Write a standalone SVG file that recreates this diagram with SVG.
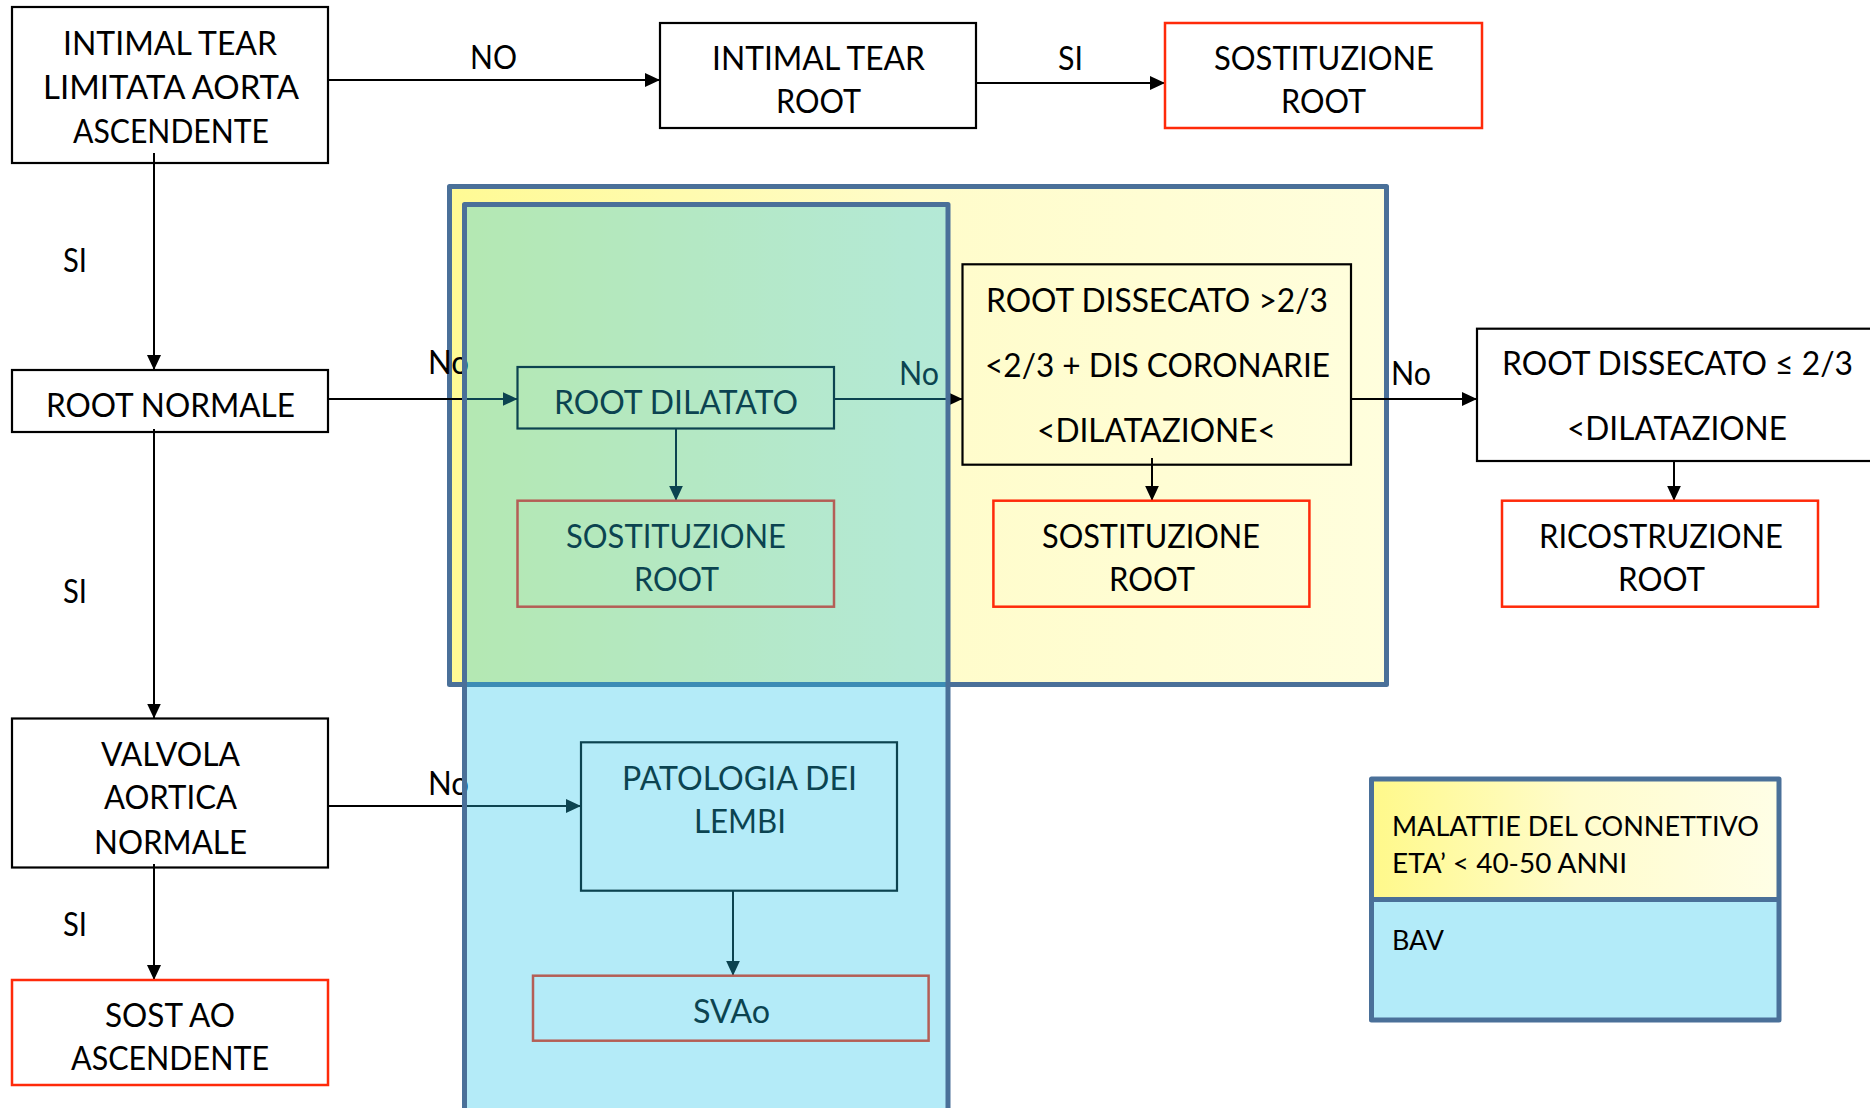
<svg xmlns="http://www.w3.org/2000/svg" width="1870" height="1108" viewBox="0 0 1870 1108">
  <defs>
    <linearGradient id="yellowFade" x1="0" y1="0" x2="1" y2="0">
      <stop offset="0" stop-color="#FFFA94"/>
      <stop offset="0.5" stop-color="#FFFCCA"/>
      <stop offset="1" stop-color="#FFFEDD"/>
    </linearGradient>
    <linearGradient id="legendFade" x1="0" y1="0" x2="1" y2="0">
      <stop offset="0" stop-color="#FFF98A"/>
      <stop offset="0.5" stop-color="#FFFCCC"/>
      <stop offset="1" stop-color="#FFFEE6"/>
    </linearGradient>
    <marker id="arr" viewBox="0 0 15 14" refX="15" refY="7" markerWidth="15" markerHeight="14" markerUnits="userSpaceOnUse" orient="auto">
      <path d="M0,0 L15,7 L0,14 z" fill="#000"/>
    </marker>
    <style>
      .t { font-family: Lato, "Open Sans", "DejaVu Sans", sans-serif; font-size: 32px; fill: #000; }
      .s { font-size: 26px; }
      .box { fill: none; stroke: #000; stroke-width: 2.2; }
      .red { fill: none; stroke: #FF2A0A; stroke-width: 2.5; }
      .c { fill: none; stroke: #000; stroke-width: 2; marker-end: url(#arr); }
      .zone { stroke: #4A7099; stroke-width: 5; stroke-linejoin: round; }
    </style>
  </defs>

  <rect width="1870" height="1108" fill="#fff"/>

  <!-- connective-tissue zone -->
  <g id="zone-connettivo">
    <rect class="zone" x="449.5" y="186.5" width="937" height="498" fill="url(#yellowFade)"/>
  </g>

  <g id="connectors">
    <path class="c" d="M328,80 H660"/>
    <path class="c" d="M976,83 H1165"/>
    <path class="c" d="M154,153 V370"/>
    <path class="c" d="M328,399 H517.5"/>
    <path class="c" d="M154,429 V718.5"/>
    <path class="c" d="M328,806 H581"/>
    <path class="c" d="M154,864 V980"/>
    <path class="c" d="M676,428 V500.7"/>
    <path class="c" d="M834,399 H962.5"/>
    <path class="c" d="M1152,458 V500.7"/>
    <path class="c" d="M1351,399 H1477"/>
    <path class="c" d="M1674,461 V500.7"/>
    <path class="c" d="M733,890.7 V975.7"/>
    <g class="t">
      <text x="470" y="69" textLength="47" lengthAdjust="spacingAndGlyphs">NO</text>
      <text x="1058" y="70" textLength="25" lengthAdjust="spacingAndGlyphs">SI</text>
      <text x="63" y="272" textLength="24" lengthAdjust="spacingAndGlyphs">SI</text>
      <text x="63" y="603" textLength="24" lengthAdjust="spacingAndGlyphs">SI</text>
      <text x="63" y="936" textLength="24" lengthAdjust="spacingAndGlyphs">SI</text>
      <text x="428" y="374" textLength="41" lengthAdjust="spacingAndGlyphs">No</text>
      <text x="428" y="795" textLength="41" lengthAdjust="spacingAndGlyphs">No</text>
      <text x="899" y="385" textLength="40" lengthAdjust="spacingAndGlyphs">No</text>
      <text x="1391" y="385" textLength="40" lengthAdjust="spacingAndGlyphs">No</text>
    </g>
  </g>

  <g id="n-intimal-tear-limitata">
    <rect class="box" x="12" y="7" width="316" height="156"/>
    <g class="t">
      <text x="63" y="55" textLength="214" lengthAdjust="spacingAndGlyphs">INTIMAL TEAR</text>
      <text x="43" y="99" textLength="256" lengthAdjust="spacingAndGlyphs">LIMITATA AORTA</text>
      <text x="73" y="143" textLength="196" lengthAdjust="spacingAndGlyphs">ASCENDENTE</text>
    </g>
  </g>

  <g id="n-intimal-tear-root">
    <rect class="box" x="660" y="23" width="316" height="105"/>
    <g class="t">
      <text x="712" y="70" textLength="213" lengthAdjust="spacingAndGlyphs">INTIMAL TEAR</text>
      <text x="776" y="113" textLength="85" lengthAdjust="spacingAndGlyphs">ROOT</text>
    </g>
  </g>

  <g id="n-sostituzione-root-1">
    <rect class="red" x="1165" y="23" width="317" height="105"/>
    <g class="t">
      <text x="1214" y="70" textLength="220" lengthAdjust="spacingAndGlyphs">SOSTITUZIONE</text>
      <text x="1281" y="113" textLength="85" lengthAdjust="spacingAndGlyphs">ROOT</text>
    </g>
  </g>

  <g id="n-root-normale">
    <rect class="box" x="12" y="370" width="316" height="62"/>
    <text class="t" x="46" y="417" textLength="249" lengthAdjust="spacingAndGlyphs">ROOT NORMALE</text>
  </g>

  <g id="n-valvola-normale">
    <rect class="box" x="12" y="718.5" width="316" height="149"/>
    <g class="t">
      <text x="101" y="766" textLength="139" lengthAdjust="spacingAndGlyphs">VALVOLA</text>
      <text x="104" y="809" textLength="133" lengthAdjust="spacingAndGlyphs">AORTICA</text>
      <text x="94" y="854" textLength="153" lengthAdjust="spacingAndGlyphs">NORMALE</text>
    </g>
  </g>

  <g id="n-sost-ao">
    <rect class="red" x="12" y="980" width="316" height="105"/>
    <g class="t">
      <text x="105" y="1027" textLength="130" lengthAdjust="spacingAndGlyphs">SOST AO</text>
      <text x="71" y="1070" textLength="198" lengthAdjust="spacingAndGlyphs">ASCENDENTE</text>
    </g>
  </g>

  <g id="n-root-dilatato">
    <rect class="box" x="517.5" y="367" width="316.5" height="61.5"/>
    <text class="t" x="554" y="414" textLength="244" lengthAdjust="spacingAndGlyphs">ROOT DILATATO</text>
  </g>

  <g id="n-sostituzione-root-2">
    <rect class="red" x="517.5" y="500.7" width="316.5" height="106"/>
    <g class="t">
      <text x="566" y="548" textLength="220" lengthAdjust="spacingAndGlyphs">SOSTITUZIONE</text>
      <text x="634" y="591" textLength="85" lengthAdjust="spacingAndGlyphs">ROOT</text>
    </g>
  </g>

  <g id="n-root-dissecato-oltre">
    <rect class="box" x="962.5" y="264.3" width="388.5" height="200.4"/>
    <g class="t">
      <text x="986" y="312" textLength="342" lengthAdjust="spacingAndGlyphs">ROOT DISSECATO &gt;2/3</text>
      <text x="985" y="377" textLength="345" lengthAdjust="spacingAndGlyphs">&lt;2/3 + DIS CORONARIE</text>
      <text x="1037" y="442" textLength="239" lengthAdjust="spacingAndGlyphs">&lt;DILATAZIONE&lt;</text>
    </g>
  </g>

  <g id="n-sostituzione-root-3">
    <rect class="red" x="993.4" y="500.7" width="316" height="106"/>
    <g class="t">
      <text x="1042" y="548" textLength="218" lengthAdjust="spacingAndGlyphs">SOSTITUZIONE</text>
      <text x="1109" y="591" textLength="86" lengthAdjust="spacingAndGlyphs">ROOT</text>
    </g>
  </g>

  <g id="n-root-dissecato-entro">
    <rect class="box" x="1477" y="328.7" width="420" height="132.3"/>
    <g class="t">
      <text x="1502" y="375" textLength="351" lengthAdjust="spacingAndGlyphs">ROOT DISSECATO ≤ 2/3</text>
      <text x="1567" y="440" textLength="220" lengthAdjust="spacingAndGlyphs">&lt;DILATAZIONE</text>
    </g>
  </g>

  <g id="n-ricostruzione-root">
    <rect class="red" x="1502" y="500.7" width="316" height="106"/>
    <g class="t">
      <text x="1539" y="548" textLength="244" lengthAdjust="spacingAndGlyphs">RICOSTRUZIONE</text>
      <text x="1618" y="591" textLength="87" lengthAdjust="spacingAndGlyphs">ROOT</text>
    </g>
  </g>

  <g id="n-patologia-lembi">
    <rect class="box" x="581" y="742.3" width="316" height="148.4"/>
    <g class="t">
      <text x="622" y="790" textLength="235" lengthAdjust="spacingAndGlyphs">PATOLOGIA DEI</text>
      <text x="694" y="833" textLength="92" lengthAdjust="spacingAndGlyphs">LEMBI</text>
    </g>
  </g>

  <g id="n-svao">
    <rect class="red" x="533" y="975.7" width="395.6" height="65"/>
    <text class="t" x="693" y="1023" textLength="77" lengthAdjust="spacingAndGlyphs">SVAo</text>
  </g>

  <!-- BAV column: translucent cyan laid over everything beneath it -->
  <g id="zone-bav">
    <rect class="zone" x="464.5" y="204.5" width="483.5" height="960" fill="#22C5EB" fill-opacity="0.343"/>
  </g>

  <g id="legend">
    <rect x="1371.5" y="779" width="407.5" height="120.5" fill="url(#legendFade)"/>
    <rect x="1371.5" y="899.5" width="407.5" height="120.5" fill="#B3EBF9"/>
    <rect class="zone" x="1371.5" y="779" width="407.5" height="241" fill="none"/>
    <line x1="1371.5" y1="899.5" x2="1779" y2="899.5" stroke="#4A7099" stroke-width="5"/>
    <g class="t s">
      <text x="1392" y="836" textLength="367" lengthAdjust="spacingAndGlyphs">MALATTIE DEL CONNETTIVO</text>
      <text x="1392" y="873" textLength="235" lengthAdjust="spacingAndGlyphs">ETA’ &lt; 40-50 ANNI</text>
      <text x="1392" y="950" textLength="52" lengthAdjust="spacingAndGlyphs">BAV</text>
    </g>
  </g>
</svg>
